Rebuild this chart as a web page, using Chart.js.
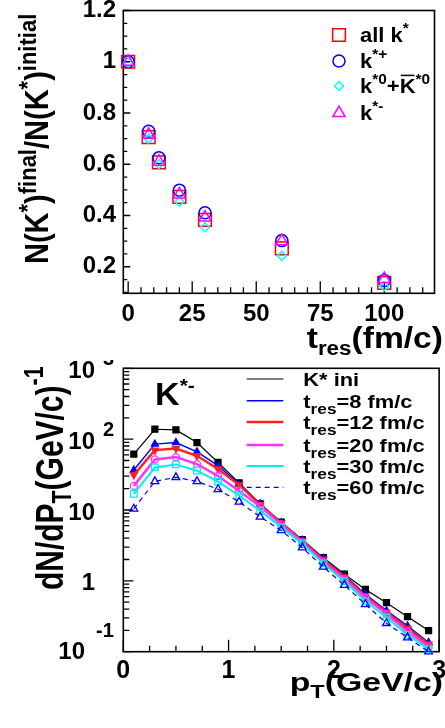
<!DOCTYPE html>
<html>
<head>
<meta charset="utf-8">
<script src="https://cdn.jsdelivr.net/npm/chart.js@4.4.1/dist/chart.umd.min.js"></script>
<style>
  html, body { margin: 0; padding: 0; background: #fff; }
  #wrap { position: relative; width: 445px; height: 728px; }
  canvas { position: absolute; left: 0; }
  #ratio { top: 0; }
  #spectra { top: 360px; }
</style>
</head>
<body>
<div id="wrap">
  <canvas id="ratio" width="445" height="360"></canvas>
  <canvas id="spectra" width="445" height="368"></canvas>
</div>
<script>
const FONT = '"Liberation Sans", Arial, sans-serif';

// --- upper panel: K* survival ratio vs hadronic phase duration
const tres = [0, 8, 12, 20, 30, 60, 100];
const allK = [1.0, 0.706, 0.607, 0.473, 0.383, 0.272, 0.137];
const kPlus = [1.0, 0.729, 0.625, 0.499, 0.411, 0.302, 0.146];
const kZero = [0.997, 0.700, 0.600, 0.454, 0.354, 0.243, 0.124];
const kMinus = [1.0, 0.715, 0.610, 0.482, 0.392, 0.300, 0.152];
const ratioXTicks = [0, 25, 50, 75, 100];
const ratioYTicks = [0.2, 0.4, 0.6, 0.8, 1, 1.2];
const ratioYLabels = ['0.2', '0.4', '0.6', '0.8', '1', '1.2'];

// --- lower panel: K*- pT spectra
const pt = [0.1, 0.3, 0.5, 0.7, 0.9, 1.1, 1.3, 1.5, 1.7, 1.9, 2.1, 2.3, 2.5, 2.7, 2.9];
const specIni = [61.5, 138, 135, 89.6, 46.9, 24.1, 12.2, 6.74, 3.81, 2.13, 1.24, 0.757, 0.491, 0.312, 0.199];
const specT8 = [36.7, 85.1, 89.6, 66.3, 42.2, 23.3, 12.2, 6.61, 3.73, 2.06, 1.20, 0.644, 0.379, 0.231, 0.135];
const specT12 = [31.2, 70.0, 73.8, 58.2, 37.9, 22.6, 11.9, 6.53, 3.65, 2.00, 1.14, 0.610, 0.360, 0.214, 0.128];
const specT20 = [21.9, 51.7, 55.8, 44.5, 30.2, 18.6, 11.2, 6.26, 3.53, 1.85, 1.06, 0.577, 0.340, 0.192, 0.118];
const specT30 = [16.9, 39.9, 44.0, 35.9, 25.1, 16.0, 9.8, 5.73, 3.35, 1.76, 0.99, 0.519, 0.306, 0.173, 0.109];
const specT60 = [10.4, 25.4, 28.9, 25.4, 19.6, 13.0, 8.0, 5.15, 2.94, 1.57, 0.87, 0.467, 0.252, 0.158, 0.100];
const ptTicks = [0, 1, 2, 3];
const ptLabels = ['0', '1', '2', '3'];
const decadeTicks = [0.1, 1, 10, 100, 1000];
const decadeLabels = [['10', '-1'], ['1', ''], ['10', ''], ['10', '2'], ['10', '3']];

const ratioLegend = [
  [['all k', ''], ['*', '^']],
  [['k', ''], ['*+', '^']],
  [['k', ''], ['*0', '^'], ['+', ''], ['K', '~'], ['*0', '^']],
  [['k', ''], ['*-', '^']],
];
const specLegend = [
  [['K* ini', '']],
  [['t', ''], ['res', '_'], ['=8 fm/c', '']],
  [['t', ''], ['res', '_'], ['=12 fm/c', '']],
  [['t', ''], ['res', '_'], ['=20 fm/c', '']],
  [['t', ''], ['res', '_'], ['=30 fm/c', '']],
  [['t', ''], ['res', '_'], ['=60 fm/c', '']],
];

// text with super/subscripts; kind '^' sup, '_' sub, '~' overlined
function richText(ctx, parts, x, y, o) {
  const size = o.size, small = o.small || size * 0.7;
  ctx.save();
  ctx.translate(x, y);
  ctx.scale(o.kx || 1, o.ky || 1);
  if (o.rot) ctx.rotate(o.rot);
  ctx.textBaseline = 'alphabetic';
  ctx.textAlign = 'left';
  ctx.fillStyle = '#000';
  ctx.strokeStyle = '#000';
  let w = 0;
  const segs = parts.map(([t, k]) => {
    const fs = (k === '^' || k === '_') ? small : size;
    ctx.font = `bold ${fs}px ${FONT}`;
    const sw = ctx.measureText(t).width;
    const s = { t, k, fs, x: w, sw };
    w += sw;
    return s;
  });
  const x0 = o.align === 'right' ? -w : o.align === 'center' ? -w / 2 : 0;
  segs.forEach((s) => {
    ctx.font = `bold ${s.fs}px ${FONT}`;
    const dy = s.k === '^' ? -(o.sup || size * 0.45) : s.k === '_' ? (o.sub || size * 0.3) : 0;
    ctx.fillText(s.t, x0 + s.x, dy);
    if (s.k === '~') {
      ctx.lineWidth = 1.5;
      ctx.beginPath();
      ctx.moveTo(x0 + s.x + 1, -size * 0.88);
      ctx.lineTo(x0 + s.x + s.sw - 1, -size * 0.88);
      ctx.stroke();
    }
  });
  ctx.restore();
}

function marker(ctx, ds, x, y) {
  ctx.save();
  ctx.strokeStyle = ds.pointBorderColor;
  ctx.fillStyle = ds.pointBackgroundColor;
  ctx.lineWidth = ds.pointBorderWidth;
  Chart.helpers.drawPoint(ctx, {
    pointStyle: ds.pointStyle,
    rotation: ds.pointRotation || 0,
    radius: ds.pointRadius,
    borderWidth: ds.pointBorderWidth,
  }, x, y);
  ctx.restore();
}

function pairs(xs, ys) {
  return xs.map((x, i) => ({ x, y: ys[i] }));
}

const NONE = 'rgba(0,0,0,0)';

const ratioDecor = {
  id: 'ratioDecor',
  beforeDatasetsDraw(chart) {
    const { ctx, chartArea: a, scales: { x, y } } = chart;
    ctx.save();
    ctx.strokeStyle = '#000';
    ctx.lineWidth = 1.6;
    ctx.strokeRect(a.left, a.top, a.right - a.left, a.bottom - a.top);
    ctx.lineWidth = 1.3;
    ctx.beginPath();
    for (let v = 0; v <= 115; v += 5) {
      const px = x.getPixelForValue(v);
      const len = ratioXTicks.includes(v) ? 12 : 6;
      ctx.moveTo(px, a.bottom);
      ctx.lineTo(px, a.bottom - len);
    }
    for (let i = 2; i <= 24; i++) {
      const py = y.getPixelForValue(i * 0.05);
      const len = i % 4 === 0 ? 7 : 4;
      ctx.moveTo(a.left, py);
      ctx.lineTo(a.left + len, py);
    }
    ctx.stroke();
    ctx.restore();
  },
  afterDraw(chart) {
    const { ctx, scales: { x, y } } = chart;
    ctx.save();
    ctx.fillStyle = '#000';
    ctx.font = `bold 24px ${FONT}`;
    ctx.textBaseline = 'middle';
    ctx.textAlign = 'right';
    ratioYTicks.forEach((v, i) => ctx.fillText(ratioYLabels[i], 116, y.getPixelForValue(v)));
    ctx.textAlign = 'center';
    ratioXTicks.forEach((v) => ctx.fillText(String(v), x.getPixelForValue(v), 314));
    ctx.restore();

    richText(ctx, [['t', ''], ['res', '_'], ['(fm/c)', '']], 443, 348,
      { size: 30, small: 20, kx: 1.12, align: 'right', sub: 7 });
    richText(ctx, [['N(K', ''], ['*', '^'], [')', ''], ['final', '^'], ['/N(K', ''], ['*', '^'], [')', ''], ['initial', '^']],
      48, 264, { size: 29, small: 22, kx: 1.12, rot: -Math.PI / 2, sup: 11 });

    const rows = [35, 61, 86, 113];
    chart.data.datasets.forEach((ds, i) => {
      marker(ctx, ds, 339, rows[i]);
      richText(ctx, ratioLegend[i], 360, rows[i] + 7, { size: 20, small: 14, kx: 1.1, sup: 9 });
    });
  },
};

const specDecor = {
  id: 'specDecor',
  beforeDatasetsDraw(chart) {
    const { ctx, chartArea: a, scales: { x, y } } = chart;
    ctx.save();
    ctx.strokeStyle = '#000';
    ctx.lineWidth = 1.6;
    ctx.strokeRect(a.left, a.top, a.right - a.left, a.bottom - a.top);
    ctx.lineWidth = 1.3;
    ctx.beginPath();
    for (let i = 0; i <= 12; i++) {
      const px = x.getPixelForValue(i * 0.25);
      const len = i % 4 === 0 ? 12 : 6;
      ctx.moveTo(px, a.bottom);
      ctx.lineTo(px, a.bottom - len);
    }
    decadeTicks.forEach((d) => {
      for (let k = 1; k <= 9; k++) {
        const v = k * d;
        if (v > 1000) break;
        const py = y.getPixelForValue(v);
        const len = k === 1 ? 10 : 6;
        ctx.moveTo(a.left, py);
        ctx.lineTo(a.left + len, py);
      }
    });
    ctx.stroke();
    ctx.restore();
  },
  afterDraw(chart) {
    const { ctx, scales: { x, y } } = chart;
    ctx.save();
    ctx.fillStyle = '#000';
    ctx.textBaseline = 'middle';
    ctx.font = `bold 25px ${FONT}`;
    ctx.textAlign = 'center';
    ptTicks.forEach((v, i) => ctx.fillText(ptLabels[i], x.getPixelForValue(v), 311));
    decadeTicks.forEach((v, i) => {
      const py = y.getPixelForValue(v);
      const [base, exp] = decadeLabels[i];
      ctx.font = `bold 24px ${FONT}`;
      ctx.textAlign = 'right';
      if (exp.startsWith('-')) {
        ctx.fillText(base, 85, py + 1);
        ctx.font = `bold 20px ${FONT}`;
        ctx.textAlign = 'left';
        ctx.fillText(exp, 96, py - 20);
      } else {
        ctx.fillText(base, 95, py + 3);
        if (exp) {
          ctx.font = `bold 20px ${FONT}`;
          ctx.textAlign = 'left';
          ctx.fillText(exp, 103, py - 9);
        }
      }
    });
    ctx.restore();

    richText(ctx, [['p', ''], ['T', '_'], ['(GeV/c)', '']], 443, 331,
      { size: 26, small: 18, kx: 1.3, align: 'right', sub: 7 });
    richText(ctx, [['dN/dP', ''], ['T', '_'], ['(GeV/c)', ''], ['-1', '^']],
      63, 230, { size: 28, small: 20, kx: 1.4, ky: 1.07, rot: -Math.PI / 2, sub: 6, sup: 14 });
    richText(ctx, [['K', ''], ['*-', '^']], 155, 45, { size: 31, small: 19, kx: 1.1, sup: 13 });

    const rows = [19, 40.7, 62, 85, 106, 127.3];
    chart.data.datasets.forEach((ds, i) => {
      ctx.save();
      ctx.strokeStyle = ds.borderColor;
      ctx.lineWidth = ds.borderWidth;
      ctx.setLineDash(ds.borderDash || []);
      ctx.beginPath();
      ctx.moveTo(246.7, rows[i]);
      ctx.lineTo(283.3, rows[i]);
      ctx.stroke();
      ctx.restore();
      richText(ctx, specLegend[i], 303.3, rows[i] + 7, { size: 19, small: 15, kx: 1.15, sub: 6 });
    });
  },
};

function ratioSet(ys, style, color, radius, extra) {
  return Object.assign({
    data: pairs(tres, ys),
    showLine: false,
    pointStyle: style,
    pointRadius: radius,
    pointBorderColor: color,
    pointBackgroundColor: NONE,
    pointBorderWidth: 1.5,
    clip: false,
  }, extra || {});
}

new Chart(document.getElementById('ratio'), {
  type: 'scatter',
  data: {
    datasets: [
      ratioSet(allK, 'rect', '#ff0000', 9, { order: 4 }),
      ratioSet(kPlus, 'circle', '#0000ff', 6, { order: 3 }),
      ratioSet(kZero, 'rectRot', '#00ffff', 4.5, { order: 2 }),
      ratioSet(kMinus, 'triangle', '#ff00ff', 7, { order: 1 }),
    ],
  },
  options: {
    responsive: false,
    animation: false,
    devicePixelRatio: 1,
    layout: { padding: { left: 123.3, right: 1.7, top: 10, bottom: 66.7 } },
    plugins: { legend: { display: false }, tooltip: { enabled: false } },
    scales: {
      x: { type: 'linear', min: -1.9, max: 119.6, display: false },
      y: { type: 'linear', min: 0.0964, max: 1.2, display: false },
    },
  },
  plugins: [ratioDecor],
});

function specSet(ys, color, width, style, filled, radius, extra) {
  return Object.assign({
    data: pairs(pt, ys),
    showLine: true,
    tension: 0,
    borderColor: color,
    borderWidth: width,
    pointStyle: style,
    pointRadius: radius,
    pointBorderColor: color,
    pointBackgroundColor: filled ? color : NONE,
    pointBorderWidth: 1.3,
    clip: false,
  }, extra || {});
}

new Chart(document.getElementById('spectra'), {
  type: 'scatter',
  data: {
    datasets: [
      specSet(specIni, '#000000', 1.2, 'rect', true, 4.2, { order: 6 }),
      specSet(specT8, '#0000ff', 1.5, 'triangle', true, 4, { order: 5 }),
      specSet(specT12, '#ff2020', 2.5, 'triangle', true, 4, { order: 4, pointRotation: 180 }),
      specSet(specT20, '#ff33ff', 2.5, 'circle', false, 3.5, { order: 3 }),
      specSet(specT30, '#00eeee', 2, 'rect', false, 4.6, { order: 2 }),
      specSet(specT60, '#0000ff', 1.2, 'triangle', false, 4.5, { order: 1, borderDash: [5, 4] }),
    ],
  },
  options: {
    responsive: false,
    animation: false,
    devicePixelRatio: 1,
    layout: { padding: { left: 123.3, right: 1.7, top: 8.3, bottom: 76.3 } },
    plugins: { legend: { display: false }, tooltip: { enabled: false } },
    scales: {
      x: { type: 'linear', min: 0, max: 3, display: false },
      y: { type: 'logarithmic', min: 0.1, max: 1000, display: false },
    },
  },
  plugins: [specDecor],
});
</script>
</body>
</html>
